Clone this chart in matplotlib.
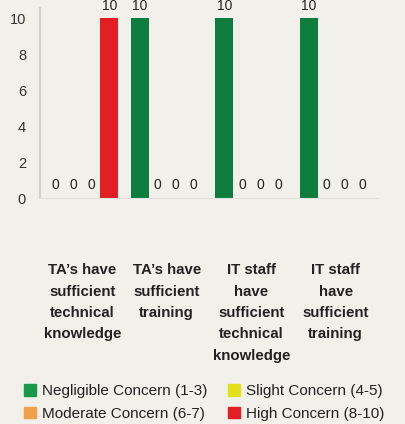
import matplotlib.pyplot as plt
import numpy as np
from matplotlib.patches import Patch

categories = ["TA\u2019s have\nsufficient\ntechnical\nknowledge",
              "TA\u2019s have\nsufficient\ntraining",
              "IT staff\nhave\nsufficient\ntechnical\nknowledge",
              "IT staff\nhave\nsufficient\ntraining"]
series = ["Negligible Concern (1-3)", "Slight Concern (4-5)",
          "Moderate Concern (6-7)", "High Concern (8-10)"]
negligible = [0, 10, 10, 10]
slight = [0, 0, 0, 0]
moderate = [0, 0, 0, 0]
high = [10, 0, 0, 0]
values = [negligible, slight, moderate, high]

bar_colors = ["#0e7d3e", "#e3e01a", "#f0a04b", "#e31e25"]
legend_colors = ["#179a47", "#e3e01a", "#f0a04b", "#e31e25"]
bg = "#f2f0eb"
fam = ["Liberation Sans", "DejaVu Sans"]

fig = plt.figure(figsize=(4.06, 4.24), dpi=100, facecolor=bg)
ax = fig.add_axes([40/406, 1-198/424, 338/406, 190/424])
ax.set_facecolor(bg)

x = np.arange(len(categories))
w = 0.213
for i, vals in enumerate(values):
    pos = x - 1.5*w + i*w
    ax.bar(pos, vals, width=w, color=bar_colors[i])
    for p, v in zip(pos, vals):
        ax.annotate(str(v), (p, v), xytext=(0, 4), textcoords="offset points",
                    ha="center", va="bottom", fontsize=10, color="#222222",
                    family=fam, annotation_clip=False)

ax.set_xlim(-0.5, 3.5)
ax.set_ylim(0, 10.56)
ax.set_yticks(range(0, 11, 2))
ax.set_xticks([])
ax.tick_params(axis="y", length=0, pad=10, labelsize=10.5, labelcolor="#333333")
for lab in ax.get_yticklabels():
    lab.set_family(fam)
for s in ["top", "right"]:
    ax.spines[s].set_visible(False)
ax.spines["left"].set_color("#d2d2d2")
ax.spines["left"].set_linewidth(1.5)
ax.spines["bottom"].set_color("#e4e2dd")

for xi, c in zip(x, categories):
    ax.text(xi, -3.62, c, ha="center", va="top", fontsize=10.8, fontweight="bold",
            color="#222222", family=fam, linespacing=1.67)

handles = [Patch(color=c) for c in legend_colors]
order = [0, 2, 1, 3]
leg = fig.legend([handles[i] for i in order], [series[i] for i in order],
                 loc="lower left", bbox_to_anchor=(24/406, 3/424), ncol=2,
                 frameon=False, prop={"family": fam, "size": 11},
                 handlelength=0.79, handleheight=0.79, handletextpad=0.4,
                 columnspacing=1.32, labelspacing=0.55, borderpad=0,
                 borderaxespad=0)
for t in leg.get_texts():
    t.set_color("#222222")

fig.savefig("out.png", dpi=100, facecolor=bg)
